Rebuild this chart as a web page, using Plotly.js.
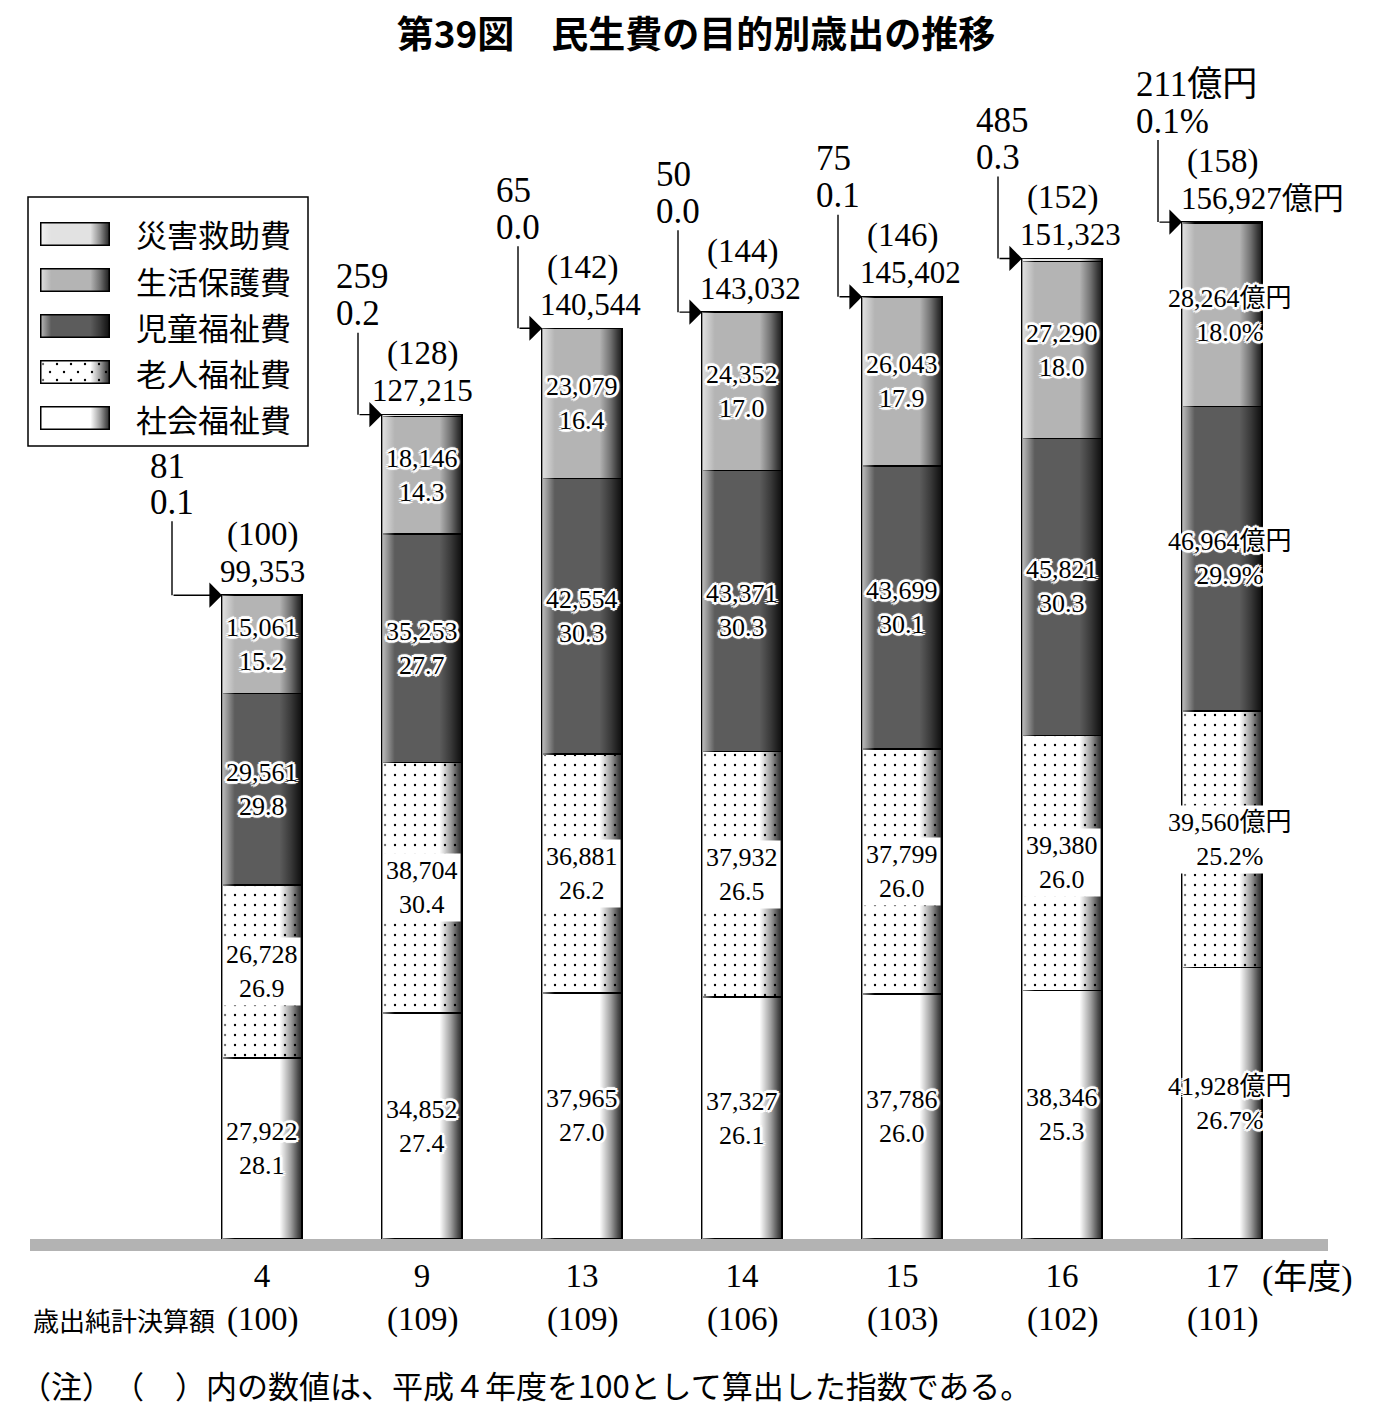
<!DOCTYPE html>
<html>
<head>
<meta charset="utf-8">
<script src="https://cdn.plot.ly/plotly-3.0.1.min.js"></script>
<style>html,body{margin:0;padding:0;background:#fff;}#chart{width:1400px;height:1411px;}</style>
</head>
<body>
<div id="chart"></div>
<script>
// ---------------- data ----------------
const years = ['4', '9', '13', '14', '15', '16', '17'];
const budgetIndex = [100, 109, 109, 106, 103, 102, 101];     // 歳出純計決算額 指数
const welfareIndex = [100, 128, 142, 144, 146, 152, 158];    // 民生費 指数
const totals = [99353, 127215, 140544, 143032, 145402, 151323, 156927];

const shakai = [27922, 34852, 37965, 37327, 37786, 38346, 41928];       // 社会福祉費
const shakaiPct = [28.1, 27.4, 27.0, 26.1, 26.0, 25.3, 26.7];
const rojin = [26728, 38704, 36881, 37932, 37799, 39380, 39560];        // 老人福祉費
const rojinPct = [26.9, 30.4, 26.2, 26.5, 26.0, 26.0, 25.2];
const jido = [29561, 35253, 42554, 43371, 43699, 45821, 46964];         // 児童福祉費
const jidoPct = [29.8, 27.7, 30.3, 30.3, 30.1, 30.3, 29.9];
const seikatsu = [15061, 18146, 23079, 24352, 26043, 27290, 28264];     // 生活保護費
const seikatsuPct = [15.2, 14.3, 16.4, 17.0, 17.9, 18.0, 18.0];
const saigai = [81, 259, 65, 50, 75, 485, 211];                         // 災害救助費
const saigaiPct = [0.1, 0.2, 0.0, 0.0, 0.1, 0.3, 0.1];

const seriesNames = ['社会福祉費', '老人福祉費', '児童福祉費', '生活保護費', '災害救助費'];

// ---------------- styles ----------------
const NUM = '"Liberation Serif", "Noto Sans CJK JP", serif';
const JP = '"Noto Sans CJK JP", sans-serif';
const colors = ['#ffffff', '#ffffff', '#5c5c5c', '#b4b4b4', '#e2e2e2'];
const PLOT_L = 30, PLOT_R = 1328, PLOT_T = 60, PLOT_B = 1239;
const PW = PLOT_R - PLOT_L, PH = PLOT_B - PLOT_T;
const PX_PER_VAL = 0.00648;
const yMax = PH / PX_PER_VAL;
const px = v => (v - PLOT_L) / PW;
const py = v => (PLOT_B - v) / PH;
const fmt = v => v.toLocaleString('en-US');
const halo = '2px 0 0 #fff, -2px 0 0 #fff, 0 2px 0 #fff, 0 -2px 0 #fff, 2px 2px 0 #fff, -2px -2px 0 #fff, 2px -2px 0 #fff, -2px 2px 0 #fff, 3px 0 1px #fff, -3px 0 1px #fff, 0 3px 1px #fff, 0 -3px 1px #fff';

const gradStops =
  "<stop offset='0' stop-color='#fff' stop-opacity='0.6'/>" +
  "<stop offset='0.16' stop-color='#fff' stop-opacity='0'/>" +
  "<stop offset='0.72' stop-color='#000' stop-opacity='0'/>" +
  "<stop offset='0.86' stop-color='#000' stop-opacity='0.38'/>" +
  "<stop offset='0.95' stop-color='#000' stop-opacity='0.7'/>" +
  "<stop offset='1' stop-color='#000' stop-opacity='0.85'/>";
const overlaySvg = "<svg xmlns='http://www.w3.org/2000/svg' width='80' height='100' viewBox='0 0 80 100' preserveAspectRatio='none'>" +
  "<defs><linearGradient id='g' x1='0' x2='1' y1='0' y2='0'>" + gradStops + "</linearGradient></defs>" +
  "<rect x='0' y='0' width='80' height='100' fill='url(#g)'/></svg>";
const svgUri = s => 'data:image/svg+xml;charset=utf-8,' + encodeURIComponent(s);

function swatchSvg(color, dotted) {
  let dots = '';
  if (dotted) {
    for (let yy = 4; yy < 24; yy += 8) {
      const off = ((yy - 4) / 8) % 2 ? 10 : 3;
      for (let xx = off; xx < 70; xx += 14) dots += "<circle cx='" + xx + "' cy='" + yy + "' r='1.2' fill='#000'/>";
    }
  }
  return "<svg xmlns='http://www.w3.org/2000/svg' width='70' height='24' viewBox='0 0 70 24' preserveAspectRatio='none'>" +
    "<defs><linearGradient id='g' x1='0' x2='1' y1='0' y2='0'>" + gradStops + "</linearGradient></defs>" +
    "<rect x='0' y='0' width='70' height='24' fill='" + color + "'/>" + dots +
    "<rect x='0' y='0' width='70' height='24' fill='url(#g)'/>" +
    "<rect x='0.75' y='0.75' width='68.5' height='22.5' fill='none' stroke='#000' stroke-width='1.5'/></svg>";
}

// ---------------- traces ----------------
const xs = years.map((_, i) => i);
const seriesVals = [shakai, rojin, jido, seikatsu, saigai];
const seriesPcts = [shakaiPct, rojinPct, jidoPct, seikatsuPct, saigaiPct];

const traces = seriesVals.map((vals, k) => {
  const marker = { color: colors[k], line: { color: '#000', width: 1.5 } };
  if (k === 1) marker.pattern = { shape: '.', fgcolor: '#000', bgcolor: '#fff', size: 10, solidity: 0.045 };
  return { type: 'bar', x: xs, y: vals, name: seriesNames[k], width: 0.5, marker: marker, showlegend: false, hoverinfo: 'skip' };
});

// ---------------- annotations / shapes / images ----------------
const annotations = [];
const shapes = [];
const images = [];

// segment labels
for (let i = 0; i < xs.length; i++) {
  let base = 0;
  for (let k = 0; k < 4; k++) {
    const v = seriesVals[k][i];
    const last = i === xs.length - 1;
    const txt = fmt(v) + (last ? '億円' : '') + '<br>' + seriesPcts[k][i].toFixed(1) + (last ? '%' : '');
    const a = {
      x: xs[i], y: base + v / 2, xref: 'x', yref: 'y', text: txt, showarrow: false,
      xanchor: 'center', yanchor: 'middle', xshift: last ? 8 : 0,
      font: { family: NUM, size: 26, color: '#000', shadow: halo }
    };
    if (k === 1) { a.bgcolor = '#fff'; a.font.shadow = 'none'; a.borderpad = 2; }
    annotations.push(a);
    base += v;
  }
}

// totals and index above bars, disaster-relief callouts
for (let i = 0; i < xs.length; i++) {
  const last = i === xs.length - 1;
  const first = i === 0;
  annotations.push({ x: xs[i], y: totals[i], xref: 'x', yref: 'y', text: '(' + welfareIndex[i] + ')', showarrow: false,
    xanchor: 'center', yanchor: 'middle', yshift: 61, font: { family: NUM, size: 33, color: '#000' } });
  annotations.push({ x: xs[i], y: totals[i], xref: 'x', yref: 'y', text: fmt(totals[i]) + (last ? '億円' : ''), showarrow: false,
    xanchor: 'center', yanchor: 'middle', yshift: 24, xshift: last ? 40 : (i >= 2 ? 8 : 0), font: { family: NUM, size: 31, color: '#000' } });

  const lineOff = first ? -0.5625 : -0.4;
  const textOff = lineOff - 0.15;
  annotations.push({ x: xs[i] + textOff, y: totals[i], xref: 'x', yref: 'y', text: fmt(saigai[i]) + (last ? '億円' : ''), showarrow: false,
    xanchor: 'left', yanchor: 'middle', yshift: first ? 129 : 138, font: { family: NUM, size: 35, color: '#000' } });
  annotations.push({ x: xs[i] + textOff, y: totals[i], xref: 'x', yref: 'y', text: saigaiPct[i].toFixed(1) + (last ? '%' : ''), showarrow: false,
    xanchor: 'left', yanchor: 'middle', yshift: first ? 93 : 101, font: { family: NUM, size: 35, color: '#000' } });
  annotations.push({ x: xs[i] - 0.25, y: totals[i], xref: 'x', yref: 'y', text: '', showarrow: true,
    axref: 'pixel', ayref: 'pixel', ax: (lineOff + 0.25) * 160, ay: 0,
    arrowhead: 1, arrowsize: 3, arrowwidth: 1.4, arrowcolor: '#000', standoff: 0 });
  shapes.push({ type: 'line', xref: 'x', yref: 'y', ysizemode: 'pixel', yanchor: totals[i],
    x0: xs[i] + lineOff, x1: xs[i] + lineOff, y0: 0, y1: first ? 74 : 82, line: { color: '#000', width: 1.4 } });

  images.push({ source: svgUri(overlaySvg), xref: 'x', yref: 'y', x: xs[i] - 0.25, y: totals[i],
    sizex: 0.5, sizey: totals[i], sizing: 'stretch', xanchor: 'left', yanchor: 'top', layer: 'above', opacity: 1 });

  // 歳出純計決算額 index row under the year ticks
  annotations.push({ x: xs[i], xref: 'x', yref: 'paper', y: py(1319), text: '(' + budgetIndex[i] + ')', showarrow: false,
    xanchor: 'center', yanchor: 'middle', font: { family: NUM, size: 33, color: '#000' } });
}

// baseline band
shapes.push({ type: 'rect', xref: 'paper', yref: 'paper', x0: 0, x1: 1, y0: 0, y1: -12 / PH,
  fillcolor: '#b3b3b3', line: { width: 0 }, layer: 'above' });

// manual legend
shapes.push({ type: 'rect', xref: 'paper', yref: 'paper', x0: px(28), x1: px(308), y0: py(197), y1: py(446),
  fillcolor: 'rgba(0,0,0,0)', line: { color: '#000', width: 1.5 }, layer: 'above' });
const legendOrder = [4, 3, 2, 1, 0];
legendOrder.forEach((k, r) => {
  const cy = 234 + r * 46;
  images.push({ source: svgUri(swatchSvg(colors[k], k === 1)), xref: 'paper', yref: 'paper',
    x: px(40), y: py(cy - 12), sizex: 70 / PW, sizey: 24 / PH, sizing: 'stretch', xanchor: 'left', yanchor: 'top', layer: 'above' });
  annotations.push({ xref: 'paper', yref: 'paper', x: px(134), y: py(cy), text: seriesNames[k], showarrow: false,
    xanchor: 'left', yanchor: 'middle', font: { family: JP, size: 31, color: '#000' } });
});

// axis-side texts
annotations.push({ xref: 'paper', yref: 'paper', x: px(1260), y: py(1278), text: '(年度)', showarrow: false,
  xanchor: 'left', yanchor: 'middle', font: { family: NUM, size: 34, color: '#000' } });
annotations.push({ xref: 'paper', yref: 'paper', x: px(217), y: py(1319), text: '歳出純計決算額', showarrow: false,
  xanchor: 'right', yanchor: 'middle', font: { family: JP, size: 26, color: '#000' } });
annotations.push({ xref: 'paper', yref: 'paper', x: px(18), y: py(1385), text: '（注）　（　）内の数値は、平成４年度を100として算出した指数である。', showarrow: false,
  xanchor: 'left', yanchor: 'middle', font: { family: JP, size: 31, color: '#000' } });

const layout = {
  width: 1400, height: 1411,
  margin: { l: PLOT_L, r: 1400 - PLOT_R, t: PLOT_T, b: 1411 - PLOT_B, pad: 0 },
  paper_bgcolor: '#fff', plot_bgcolor: '#fff',
  barmode: 'stack', showlegend: false,
  title: { text: '<b>第39図　民生費の目的別歳出の推移</b>', font: { family: JP, size: 37, color: '#000' },
    x: 696 / 1400, xref: 'container', xanchor: 'center', y: 1 - 35 / 1411, yref: 'container', yanchor: 'middle' },
  xaxis: { range: [-1.45, 6.6625], tickmode: 'array', tickvals: xs, ticktext: years,
    showgrid: false, zeroline: false, showline: false, ticks: '', ticklabelstandoff: 14,
    tickfont: { family: NUM, size: 33, color: '#000' }, fixedrange: true },
  yaxis: { range: [0, yMax], visible: false, fixedrange: true },
  annotations: annotations, shapes: shapes, images: images
};

Plotly.newPlot('chart', traces, layout, { staticPlot: true, displayModeBar: false });
</script>
</body>
</html>
